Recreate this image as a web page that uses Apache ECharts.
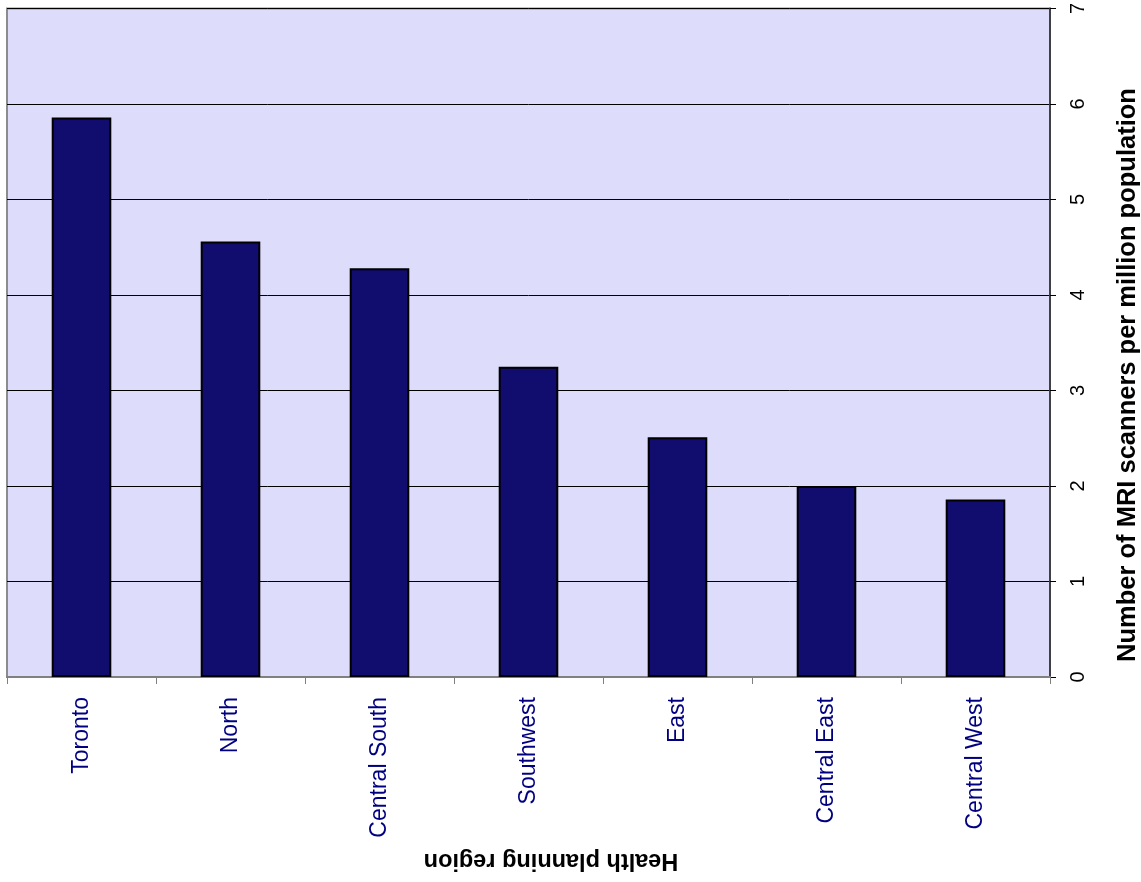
<!DOCTYPE html>
<html>
<head>
<meta charset="utf-8">
<title>MRI scanners per million population by health planning region</title>
<script src="https://cdn.jsdelivr.net/npm/echarts@6/dist/echarts.min.js"></script>
<style>
  html, body { margin: 0; padding: 0; background: #ffffff; }
  #chart { width: 1141px; height: 882px; }
</style>
</head>
<body>
<div id="chart"></div>
<script>
// Health planning regions, ordered from highest to lowest rate
const regions = ['Toronto', 'North', 'Central South', 'Southwest', 'East', 'Central East', 'Central West'];
// MRI scanners per million population
const scannersPerMillion = [5.86, 4.56, 4.28, 3.25, 2.51, 2.00, 1.86];
// Value axis range and step
const valueMin = 0;
const valueMax = 7;
const valueStep = 1;

const xTitle = 'Health planning region';
const yTitle = 'Number of MRI scanners per million population';

const FONT = 'Liberation Sans, Arial, sans-serif';

const chart = echarts.init(document.getElementById('chart'), null, { renderer: 'canvas' });

chart.setOption({
  animation: false,
  backgroundColor: '#ffffff',
  grid: {
    left: 7,
    top: 4,
    right: 91,
    bottom: 205,
    show: true,
    backgroundColor: '#DDDDFB',
    borderColor: '#8C8C8C',
    borderWidth: 2
  },
  xAxis: {
    type: 'category',
    data: regions,
    boundaryGap: true,
    axisLine: { show: true, lineStyle: { color: '#808080', width: 2 } },
    axisTick: { show: true, alignWithLabel: false, length: 7, lineStyle: { color: '#808080', width: 1 } },
    axisLabel: {
      rotate: 90,
      margin: 20,
      color: '#000080',
      fontFamily: FONT,
      fontSize: 23,
      interval: 0
    },
    splitLine: { show: false }
  },
  yAxis: {
    type: 'value',
    position: 'right',
    min: valueMin,
    max: valueMax,
    interval: valueStep,
    axisLine: { show: true, lineStyle: { color: '#404040', width: 2 } },
    axisTick: { show: true, inside: false, length: 6, lineStyle: { color: '#000000', width: 1 } },
    axisLabel: {
      rotate: 90,
      margin: 18,
      color: '#000000',
      fontFamily: FONT,
      fontSize: 20
    },
    splitLine: { show: true, lineStyle: { color: '#000000', width: 1 } }
  },
  series: [{
    type: 'bar',
    data: scannersPerMillion,
    barWidth: '40%',
    itemStyle: {
      color: '#110D6E',
      borderColor: '#000000',
      borderWidth: 2
    }
  }],
  graphic: [
    {
      type: 'text',
      x: 551,
      y: 860,
      rotation: Math.PI,
      style: {
        text: xTitle,
        fill: '#000000',
        font: 'bold 23.5px ' + FONT,
        align: 'center',
        verticalAlign: 'middle'
      }
    },
    {
      type: 'text',
      x: 1128,
      y: 375,
      rotation: Math.PI / 2,
      style: {
        text: yTitle,
        fill: '#000000',
        font: 'bold 25.5px ' + FONT,
        align: 'center',
        verticalAlign: 'middle'
      }
    }
  ]
});
</script>
</body>
</html>
